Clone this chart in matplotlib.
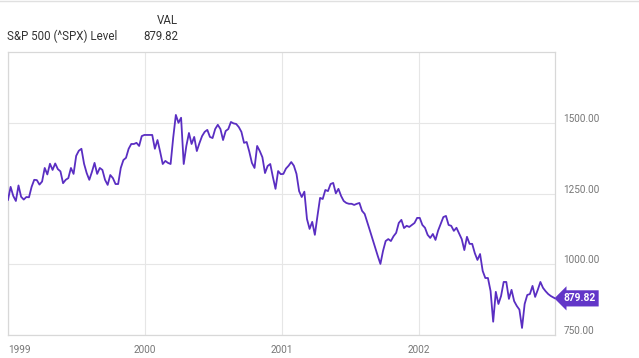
import numpy as np
import pandas as pd
import matplotlib
matplotlib.use("Agg")
import matplotlib.pyplot as plt
import matplotlib.transforms as mtransforms

plt.rcParams['font.family'] = ['Roboto', 'DejaVu Sans']

# weekly levels (Fridays)
vals_1999 = [1229, 1275, 1243, 1225, 1280, 1240, 1230, 1239, 1238, 1275, 1300, 1299,
             1283, 1294, 1342, 1319, 1357, 1335, 1358, 1338, 1330, 1288, 1300, 1306,
             1342, 1321, 1385, 1403, 1410, 1357, 1324, 1300, 1328, 1360, 1321, 1342,
             1335, 1300, 1282, 1317, 1306, 1285, 1285, 1342, 1370, 1378, 1410, 1427,
             1427, 1431, 1420, 1455, 1459]
vals_2000 = [1459, 1459, 1459, 1410, 1441, 1400, 1356, 1367, 1360, 1356, 1450, 1530,
             1502, 1520, 1356, 1420, 1466, 1427, 1452, 1402, 1430, 1455, 1470, 1477,
             1452, 1448, 1480, 1495, 1480, 1441, 1473, 1480, 1505, 1500, 1498, 1487,
             1470, 1431, 1434, 1400, 1360, 1342, 1420, 1402, 1380, 1324, 1349, 1356,
             1310, 1268, 1331, 1320]
vals_2001 = [1321, 1340, 1350, 1363, 1350, 1321, 1260, 1239, 1258, 1161, 1126, 1151,
             1105, 1172, 1236, 1232, 1264, 1260, 1285, 1289, 1252, 1268, 1243, 1225,
             1218, 1215, 1215, 1211, 1215, 1218, 1190, 1179, 1150, 1120, 1090, 1059,
             1030, 1002, 1048, 1083, 1090, 1083, 1100, 1112, 1147, 1158, 1129, 1137,
             1133, 1140, 1147, 1165]
vals_2002 = [1165, 1140, 1130, 1105, 1094, 1108, 1087, 1120, 1144, 1168, 1172, 1140,
             1137, 1119, 1130, 1110, 1090, 1051, 1098, 1073, 1073, 1040, 1016, 1037,
             977, 952, 952, 906, 797, 903, 860, 888, 938, 938, 878, 910,
             870, 853, 840, 775, 860, 892, 895, 924, 885, 910, 938, 917,
             905, 895, 888]
last_val = 879.82
year_ticks = ['1999', '2000', '2001', '2002']
y_ticks = [750, 1000, 1250, 1500]

values = vals_1999 + vals_2000 + vals_2001 + vals_2002 + [last_val]
dates = list(pd.date_range('1999-01-01', periods=len(values) - 1, freq='7D'))
dates.append(pd.Timestamp('2002-12-31'))

purple = '#5a2ec2'
grid_c = '#e6e6e6'

fig = plt.figure(figsize=(6.39, 3.58), dpi=100)
ax = fig.add_axes([8/639, 1 - 335/358, 547/639, 283/358])

ax.plot(dates, values, color=purple, lw=1.3, solid_joinstyle='round', zorder=3)

ax.set_xlim(pd.Timestamp('1999-01-01'), pd.Timestamp('2002-12-31'))
ax.set_ylim(750, 1753)

ax.set_xticks([pd.Timestamp(y + '-01-01') for y in year_ticks])
ax.set_xticklabels(year_ticks)
ax.set_yticks(y_ticks)
ax.set_yticklabels([f'{v:.2f}' for v in y_ticks])
ax.yaxis.tick_right()
ax.tick_params(length=0, labelsize=7.2, labelcolor='#777777')
ax.tick_params(axis='x', pad=7)
ax.tick_params(axis='y', pad=6)
ax.get_xticklabels()[0].set_ha('left')

# lift y labels slightly above their gridline
off = mtransforms.ScaledTranslation(0, 5/100, fig.dpi_scale_trans)
for lab in ax.get_yticklabels():
    lab.set_transform(lab.get_transform() + off)

ax.grid(True, color=grid_c, lw=0.8, zorder=0)
for s in ax.spines.values():
    s.set_color('#d8d8d8')
    s.set_linewidth(0.9)

# last value tag
ax.annotate(f'{last_val:.2f}', xy=(1, last_val), xycoords=('axes fraction', 'data'),
            xytext=(6, 0), textcoords='offset points', ha='left', va='center',
            color='white', fontsize=7.4, fontweight='bold',
            bbox=dict(boxstyle='larrow,pad=0.3', fc='#6236c8', ec='none'))

# header
fig.text(178/639, 1 - 20/358, 'VAL', ha='right', va='center', fontsize=8.3, color='#333333')
fig.text(7/639, 1 - 36/358, 'S&P 500 (^SPX) Level', ha='left', va='center',
         fontsize=8.3, color='#333333')
fig.text(178/639, 1 - 36/358, f'{last_val:.2f}', ha='right', va='center',
         fontsize=8.3, color='#333333')
fig.add_artist(plt.Line2D([0, 1], [0.998, 0.998], transform=fig.transFigure,
                          color='#e0e0e0', lw=1))

fig.savefig('out.png', dpi=100)
